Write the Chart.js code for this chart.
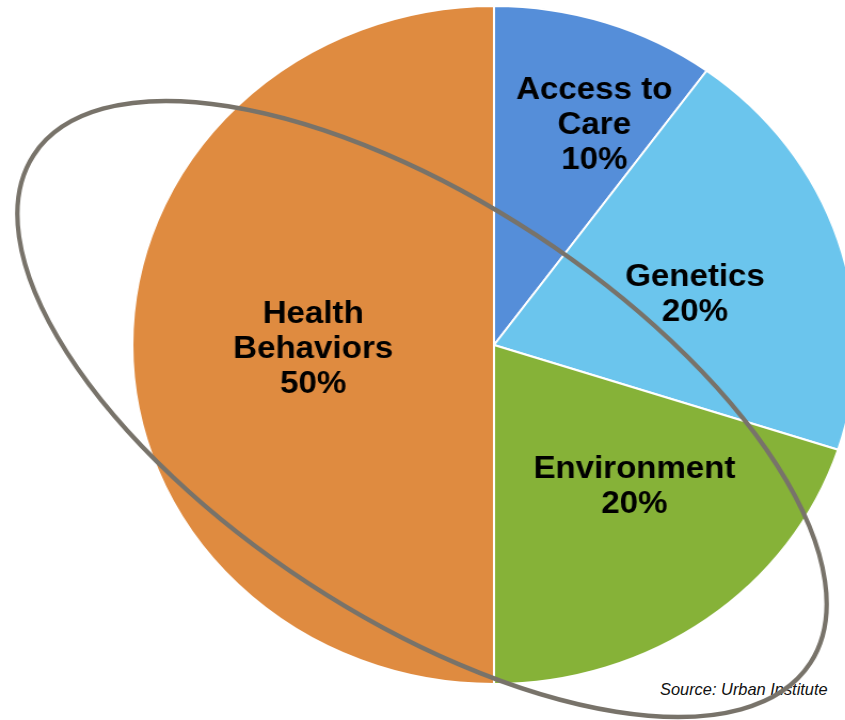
<!DOCTYPE html>
<html>
<head>
<meta charset="utf-8">
<script src="https://cdn.jsdelivr.net/npm/chart.js@4.4.1/dist/chart.umd.min.js"></script>
<style>
  html, body { margin: 0; padding: 0; background: #fff; overflow: hidden; }
  body { width: 845px; height: 720px; position: relative; }
  #source {
    position: absolute; left: 660px; top: 681px;
    font: italic 16.4px "Liberation Sans", Arial, sans-serif;
    line-height: 16px; color: #111; white-space: nowrap;
  }
  #wrap {
    position: absolute; left: 0; top: 0; width: 860px; height: 720px;
    transform: scaleX(1.067); transform-origin: 0 0;
  }
</style>
</head>
<body>
<div id="source">Source: Urban Institute</div>
<div id="wrap"><canvas id="chart" width="860" height="720"></canvas></div>
<script>
const categories = [["Access to", "Care"], ["Genetics"], ["Environment"], ["Health", "Behaviors"]];
const shares = [10, 20, 20, 50];
const sliceColors = ["#558ED9", "#6BC5ED", "#86B238", "#DF8B40"];

// where each label sits: fraction of the radius, and a nudge off the mid-angle (degrees)
const labelSpots = [[0.715, 4.8], [0.578, 2], [0.562, -7.7], [0.5, 0]];

// the whole pie is drawn a bit wider than tall
const stretchX = 1.067;

const sliceLabels = {
    id: "sliceLabels",
    afterDatasetsDraw(chart) {
        const ctx = chart.ctx;
        const meta = chart.getDatasetMeta(0);
        ctx.save();
        ctx.font = "bold 31px 'Liberation Sans', Arial, sans-serif";
        ctx.fillStyle = "#000";
        ctx.textAlign = "center";
        ctx.textBaseline = "middle";
        meta.data.forEach((arc, i) => {
            const { x, y, startAngle, endAngle, outerRadius } =
                arc.getProps(["x", "y", "startAngle", "endAngle", "outerRadius"], true);
            const [frac, nudge] = labelSpots[i];
            const a = (startAngle + endAngle) / 2 + nudge * Math.PI / 180;
            const cx = x + Math.cos(a) * outerRadius * frac;
            const cy = y + Math.sin(a) * outerRadius * frac + 4;
            const lines = [...categories[i], shares[i] + "%"];
            const lh = 35;
            lines.forEach((t, k) => ctx.fillText(t, cx, cy + (k - (lines.length - 1) / 2) * lh));
        });
        ctx.restore();
    }
};

// grey loop drawn over the pie, in page pixels
const loop = {
    id: "loop",
    afterDraw(chart) {
        const ctx = chart.ctx;
        ctx.save();
        ctx.scale(1 / stretchX, 1);
        ctx.beginPath();
        ctx.ellipse(422, 409, 464, 208, 33.2 * Math.PI / 180, 0, Math.PI * 2);
        ctx.lineWidth = 4.5;
        ctx.strokeStyle = "#78736A";
        ctx.stroke();
        ctx.restore();
    }
};

new Chart(document.getElementById("chart").getContext("2d"), {
    type: "pie",
    data: {
        labels: categories,
        datasets: [{
            data: shares,
            backgroundColor: sliceColors,
            borderColor: "#fff",
            borderWidth: 2
        }]
    },
    options: {
        responsive: false,
        animation: false,
        events: [],
        layout: { padding: { left: 123, right: 57, top: 5, bottom: 35 } },
        plugins: { legend: { display: false }, tooltip: { enabled: false } }
    },
    plugins: [sliceLabels, loop]
});
</script>
</body>
</html>
